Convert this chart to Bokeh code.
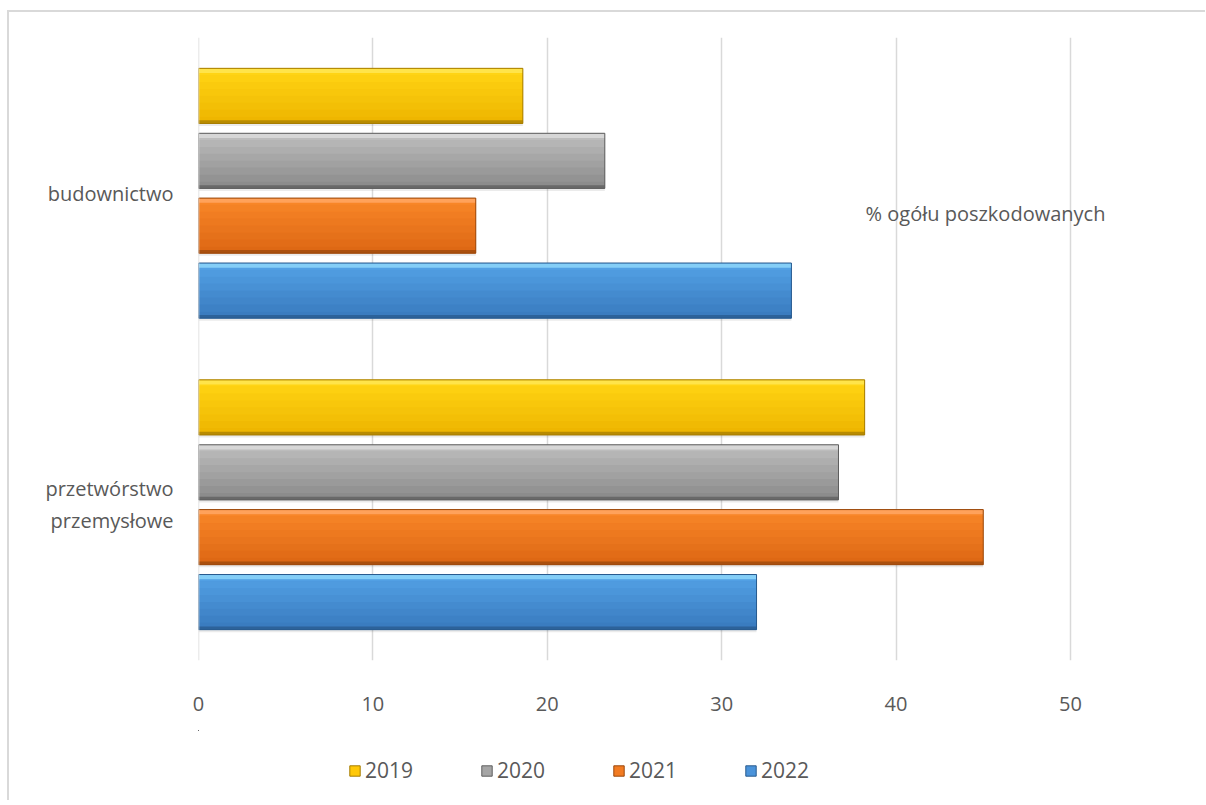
from bokeh.plotting import figure
from bokeh.layouts import column
from bokeh.models import FactorRange, Legend, LegendItem, Label, ColumnDataSource, Span
from bokeh.transform import dodge
from bokeh.embed import file_html
from bokeh.resources import INLINE

# ---- data ----
categories = ["budownictwo", "przetwórstwo\nprzemysłowe"]
years = ["2019", "2020", "2021", "2022"]
v2019 = [18.6, 38.2]
v2020 = [23.3, 36.7]
v2021 = [15.9, 45.0]
v2022 = [34.0, 32.0]
x_ticks = [0, 10, 20, 30, 40, 50]
axis_title = "% ogółu poszkodowanych"

series = {"2019": v2019, "2020": v2020, "2021": v2021, "2022": v2022}

# ---- styles ----
FONT = "Open Sans"
TXT = "#595959"
base = {"2019": "#FFC808", "2020": "#A5A5A5", "2021": "#F27B22", "2022": "#4A93DA"}
top_c = {"2019": (255, 212, 20), "2020": (188, 188, 188), "2021": (248, 134, 40), "2022": (82, 160, 228)}
bot_c = {"2019": (238, 182, 0), "2020": (140, 140, 140), "2021": (222, 104, 20), "2022": (58, 124, 192)}
light = {"2019": "#FFE650", "2020": "#D8D8D8", "2021": "#FFA560", "2022": "#8AD3F8"}
dark = {"2019": "#A67C00", "2020": "#5E5E5E", "2021": "#9A480C", "2022": "#285A8E"}
offsets = {"2019": 0.3125, "2020": 0.104, "2021": -0.104, "2022": -0.3125}
H = 0.177
NB = 8


def mix(a, b, t):
    return "#%02x%02x%02x" % tuple(int(round(a[i] + (b[i] - a[i]) * t)) for i in range(3))


src = ColumnDataSource(dict(cat=categories, **{"v" + y: series[y] for y in years}))

yr = FactorRange(factors=categories[::-1], range_padding=0)

p = figure(frame_width=994, frame_height=623, x_range=(0, 57), y_range=yr,
           output_backend="svg", toolbar_location=None,
           min_border_left=189, min_border_right=13, min_border_top=25, min_border_bottom=70)
p.outline_line_color = None
p.background_fill_color = "white"
p.border_fill_color = "white"

p.add_layout(Span(location=0, dimension="height", line_color="#d9d9d9", line_width=1.5))

for y in years:
    col = "v" + y
    o = offsets[y]
    # soft shadow
    p.hbar(y=dodge("cat", o - 0.008, range=yr), left=0, right=col, height=H, source=src,
           fill_color="#000000", fill_alpha=0.08, line_color=None)
    p.hbar(y=dodge("cat", o, range=yr), left=0, right=col, height=H, source=src,
           fill_color=base[y], line_color=None)
    # vertical gradient bands
    bh = H / NB
    for k in range(NB):
        cy = o + H / 2 - bh * (k + 0.5)
        p.hbar(y=dodge("cat", cy, range=yr), left=0, right=col, height=bh * 1.04, source=src,
               fill_color=mix(top_c[y], bot_c[y], k / (NB - 1)), line_color=None)
    p.hbar(y=dodge("cat", o + H / 2 - 0.008, range=yr), left=0, right=col, height=0.014, source=src,
           fill_color=light[y], fill_alpha=0.9, line_color=None)
    p.hbar(y=dodge("cat", o - H / 2 + 0.005, range=yr), left=0, right=col, height=0.010, source=src,
           fill_color=dark[y], fill_alpha=0.75, line_color=None)
    p.hbar(y=dodge("cat", o, range=yr), left=0, right=col, height=H, source=src,
           fill_color=None, line_color=dark[y], line_width=1)

# axes
p.xaxis.ticker = x_ticks
p.xaxis.axis_line_color = None
p.xaxis.major_tick_line_color = None
p.xaxis.minor_tick_line_color = None
p.xaxis.major_label_standoff = 30
p.xaxis.major_label_text_font = FONT
p.xaxis.major_label_text_font_size = "20px"
p.xaxis.major_label_text_color = TXT

p.yaxis.axis_line_color = None
p.yaxis.major_tick_line_color = None
p.yaxis.minor_tick_line_color = None
p.yaxis.major_label_standoff = 19
p.yaxis.major_label_text_font = FONT
p.yaxis.major_label_text_font_size = "20px"
p.yaxis.major_label_text_color = TXT

p.ygrid.grid_line_color = None
p.xgrid.grid_line_color = "#d9d9d9"
p.xgrid.grid_line_width = 1.5

p.add_layout(Label(x=38.25, y=1.435, text=axis_title, text_font=FONT, text_font_size="20px",
                   text_color=TXT, text_align="left", text_baseline="middle"))

# ---- legend strip (separate figure; its bars lie outside its ranges) ----
yr2 = FactorRange(factors=categories[::-1])
p2 = figure(width=1196, height=70, x_range=(1000, 1001), y_range=yr2,
            output_backend="svg", toolbar_location=None,
            min_border_left=0, min_border_right=0, min_border_top=0, min_border_bottom=0)
p2.outline_line_color = None
p2.xaxis.visible = False
p2.yaxis.visible = False
p2.xgrid.grid_line_color = None
p2.ygrid.grid_line_color = None
items = []
for y in years:
    r = p2.hbar(y=dodge("cat", 20, range=yr2), left=0, right="v" + y, height=0.2, source=src,
                fill_color=base[y], line_color=dark[y], line_width=1)
    items.append(LegendItem(label=y, renderers=[r]))

legend = Legend(items=items, orientation="horizontal", location=(150, 16),
                label_text_font=FONT, label_text_font_size="21px", label_text_color=TXT,
                glyph_width=13, glyph_height=13, label_standoff=4, spacing=67,
                border_line_color=None, background_fill_alpha=0, margin=0, padding=5)
p2.add_layout(legend)

layout = column(p, p2, spacing=0)
layout.margin = (10, 0, 0, 7)
layout.styles = {"border-top": "2px solid #d9d9d9", "border-left": "2px solid #d9d9d9"}

open("out.html", "w").write(file_html(layout, INLINE))
